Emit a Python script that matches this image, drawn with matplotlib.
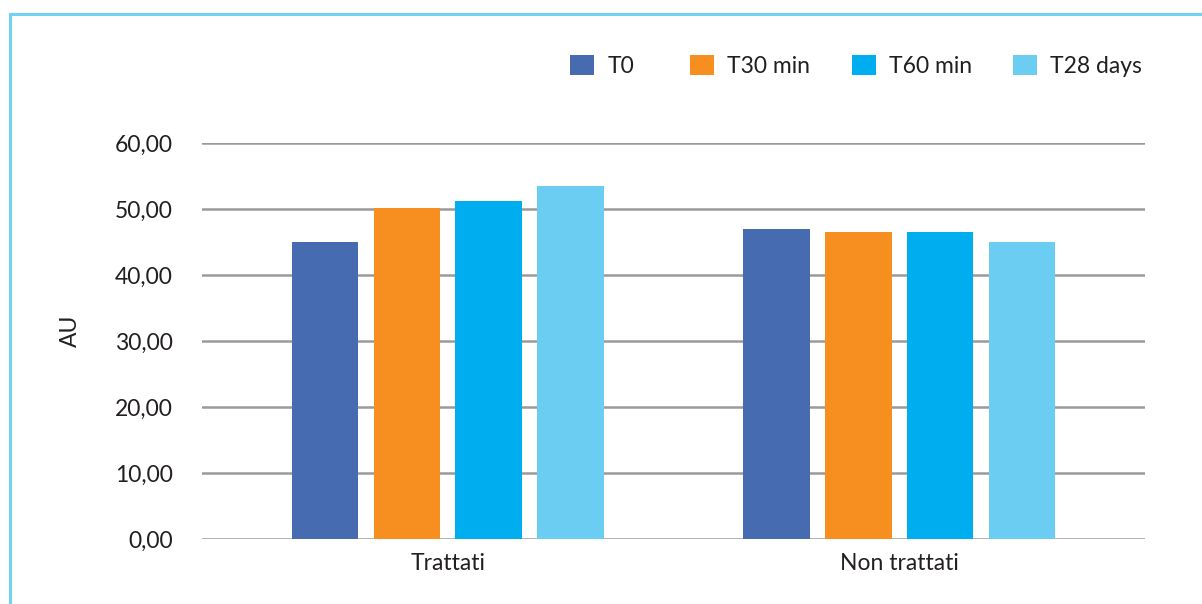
import matplotlib
matplotlib.use('Agg')
import matplotlib.pyplot as plt
from matplotlib.lines import Line2D
from matplotlib.ticker import FuncFormatter
import numpy as np

# mean values (AU) per group and time point
groups = ["Trattati", "Non trattati"]
series = ["T0", "T30 min", "T60 min", "T28 days"]
t0 = [45.0, 47.0]
t30 = [50.2, 46.5]
t60 = [51.2, 46.5]
t28 = [53.5, 45.0]
colors = ["#466bb0", "#f68e20", "#00aeef", "#6bcdf2"]

plt.rcParams['font.family'] = ['Lato', 'DejaVu Sans']
text_color = "#231f20"
grid_color = "#9a9a9c"
fs = 16.5

fig = plt.figure(figsize=(12.02, 6.04), dpi=100)
ax = fig.add_axes([202/1202, 1-539/604, 943/1202, 396/604])

x = np.arange(len(groups))
width = 0.148
step = 0.1816
bars = []
for i, (name, vals) in enumerate(zip(series, [t0, t30, t60, t28])):
    bars.append(ax.bar(x + (i - 1.5)*step, vals, width, color=colors[i], label=name, zorder=3))

ax.set_ylim(0, 60)
ax.set_xlim(-0.545, 1.545)
ax.set_yticks(np.arange(0, 61, 10))
ax.yaxis.set_major_formatter(FuncFormatter(lambda v, p: f"{v:.2f}".replace(".", ",")))
ax.set_xticks(x)
ax.set_xticklabels(groups)
ax.grid(axis='y', color=grid_color, linewidth=1.8, zorder=0)
for s in ax.spines.values():
    s.set_visible(False)
ax.tick_params(axis='both', length=0, labelsize=fs, colors=text_color)
ax.tick_params(axis='y', pad=21)
ax.tick_params(axis='x', pad=10)

fig.text(70/1202, 1-331/604, "AU", rotation=90, ha='center', va='center',
         fontsize=fs, color=text_color)

# one legend entry per series, spaced along the top
leg_x = [570, 690, 852, 1013]
for b, name, lx in zip(bars, series, leg_x):
    leg = fig.legend([b], [name], loc='center left', bbox_to_anchor=(lx/1202, 1-66/604),
                     frameon=False, fontsize=fs, handlelength=1.05, handleheight=1.0,
                     handletextpad=0.57, borderpad=0, borderaxespad=0)
    for t in leg.get_texts():
        t.set_color(text_color)

# light blue frame, top and left edges
frame = "#72d2f4"
fig.add_artist(Line2D([9.5/1202, 1], [1-13.5/604, 1-13.5/604], color=frame, linewidth=2.2))
fig.add_artist(Line2D([9.5/1202, 9.5/1202], [0, 1-13.5/604], color=frame, linewidth=2.2))

fig.savefig("out.png", dpi=100)
